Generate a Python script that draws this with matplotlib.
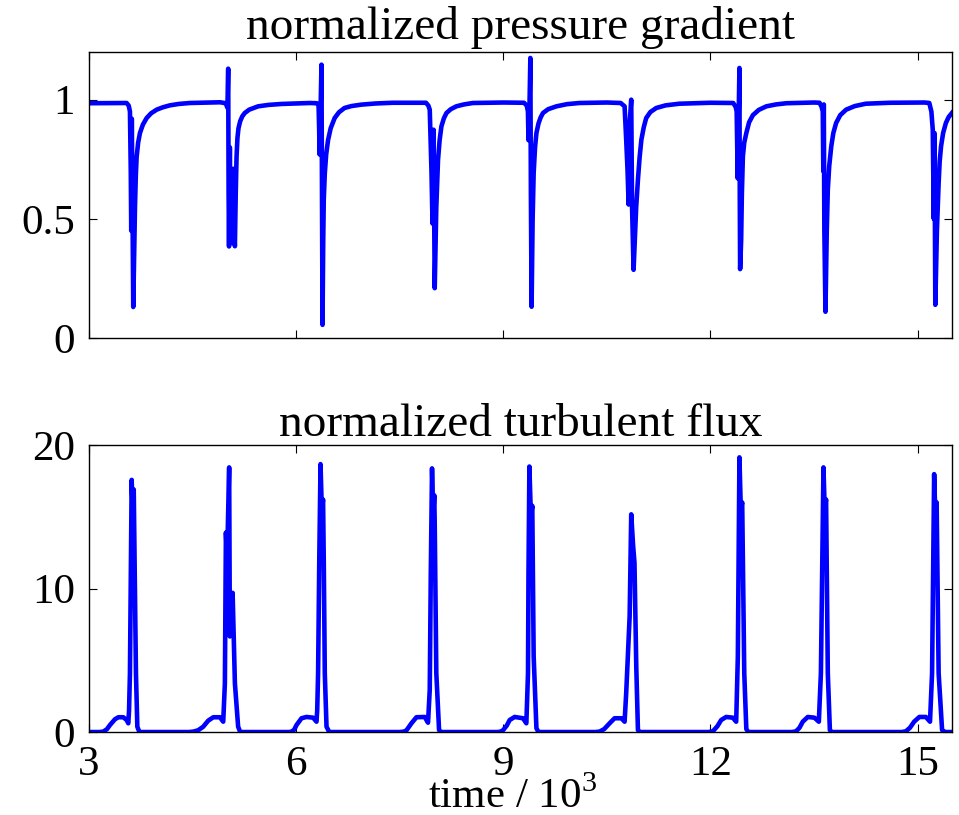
import matplotlib
matplotlib.use('Agg')
import matplotlib.pyplot as plt
import numpy as np

plt.rcParams['font.family'] = ['Liberation Serif', 'DejaVu Serif']
plt.rcParams['mathtext.fontset'] = 'custom'
plt.rcParams['mathtext.rm'] = 'Liberation Serif'

# time in units of 10^3, one row per relaxation cycle
grad_t = [
    3.00, 3.40, 3.545,
    3.575, 3.593, 3.605, 3.612, 3.620, 3.628, 3.641, 3.654, 3.666, 3.678, 3.690, 3.712, 3.738, 3.78, 3.835, 3.90, 3.98, 4.07, 4.17, 4.30, 4.46, 4.90,
    4.98, 5.005, 5.016, 5.022, 5.028, 5.040, 5.050, 5.065, 5.075, 5.090, 5.100, 5.113, 5.125, 5.137, 5.150, 5.165, 5.19, 5.22, 5.256, 5.32, 5.45, 5.60, 5.79, 6.20,
    6.30, 6.325, 6.333, 6.340, 6.350, 6.367, 6.374, 6.382, 6.392, 6.400, 6.415, 6.435, 6.462, 6.50, 6.558, 6.62, 6.70, 6.80, 6.94, 7.15, 7.40,
    7.88, 7.915, 7.935, 7.960, 7.975, 7.990, 8.007, 8.030, 8.055, 8.078, 8.104, 8.14, 8.177, 8.24, 8.32, 8.43, 8.56, 9.00,
    9.30, 9.340, 9.357, 9.365, 9.375, 9.392, 9.400, 9.410, 9.425, 9.440, 9.46, 9.48, 9.51, 9.54, 9.575, 9.65, 9.77, 9.92, 10.10, 10.50,
    10.70, 10.757, 10.780, 10.800, 10.815, 10.830, 10.853, 10.865, 10.878, 10.887, 10.905, 10.925, 10.95, 10.975, 11.00, 11.035, 11.07, 11.13, 11.215, 11.35, 11.55, 12.00,
    12.33, 12.365, 12.380, 12.395, 12.405, 12.420, 12.425, 12.430, 12.445, 12.455, 12.47, 12.49, 12.52, 12.56, 12.615, 12.70, 12.81, 12.95, 13.10, 13.50,
    13.58, 13.610, 13.627, 13.635, 13.642, 13.650, 13.666, 13.685, 13.70, 13.72, 13.75, 13.78, 13.82, 13.88, 13.965, 14.09, 14.25, 14.60, 15.10,
    15.17, 15.200, 15.220, 15.235, 15.245, 15.257, 15.280, 15.305, 15.32, 15.34, 15.37, 15.41, 15.45, 15.50,
]
grad_v = [
    0.985, 0.986, 0.986,
    0.975, 0.951, 0.70, 0.45, 0.92, 0.60, 0.13, 0.36, 0.55, 0.68, 0.76, 0.82, 0.86, 0.895, 0.923, 0.943, 0.958, 0.968, 0.976, 0.982, 0.986, 0.989,
    0.985, 0.966, 1.13, 0.60, 0.384, 0.80, 0.42, 0.66, 0.40, 0.71, 0.45, 0.385, 0.60, 0.76, 0.84, 0.88, 0.91, 0.93, 0.944, 0.958, 0.972, 0.978, 0.982, 0.986,
    0.985, 0.975, 0.88, 0.77, 0.90, 1.147, 0.60, 0.055, 0.40, 0.58, 0.69, 0.77, 0.83, 0.88, 0.923, 0.947, 0.965, 0.973, 0.979, 0.984, 0.987,
    0.987, 0.975, 0.958, 0.70, 0.48, 0.874, 0.209, 0.55, 0.748, 0.83, 0.888, 0.922, 0.944, 0.960, 0.972, 0.980, 0.986, 0.988,
    0.987, 0.975, 0.951, 0.83, 0.90, 1.175, 0.60, 0.131, 0.50, 0.692, 0.80, 0.86, 0.90, 0.925, 0.944, 0.960, 0.972, 0.981, 0.986, 0.988,
    0.986, 0.972, 0.832, 0.70, 0.56, 0.90, 1.00, 0.55, 0.40, 0.286, 0.41, 0.55, 0.664, 0.76, 0.832, 0.885, 0.923, 0.948, 0.965, 0.976, 0.983, 0.987,
    0.986, 0.970, 0.951, 0.67, 0.85, 1.133, 0.60, 0.289, 0.41, 0.60, 0.762, 0.82, 0.86, 0.905, 0.935, 0.957, 0.972, 0.980, 0.985, 0.988,
    0.987, 0.970, 0.951, 0.70, 0.98, 0.45, 0.11, 0.45, 0.622, 0.72, 0.804, 0.86, 0.902, 0.935, 0.958, 0.973, 0.983, 0.987, 0.988,
    0.986, 0.950, 0.874, 0.50, 0.86, 0.139, 0.45, 0.65, 0.74, 0.804, 0.86, 0.902, 0.927, 0.945,
]

flux_t = [
    3.00, 3.15,
    3.207, 3.26, 3.304, 3.376, 3.425, 3.497, 3.545, 3.569, 3.580, 3.593, 3.605, 3.618, 3.636, 3.648, 3.660, 3.680, 3.700, 3.73,
    4.45, 4.51, 4.58, 4.654, 4.726, 4.80, 4.896, 4.944, 4.968, 4.983, 5.000, 5.030, 5.040, 5.055, 5.065, 5.080, 5.113, 5.16, 5.19,
    5.90, 5.93, 5.97, 6.006, 6.078, 6.15, 6.246, 6.295, 6.305, 6.318, 6.335, 6.353, 6.372, 6.390, 6.400, 6.415, 6.44, 6.48,
    7.50, 7.56, 7.598, 7.67, 7.742, 7.862, 7.91, 7.935, 7.950, 7.968, 7.985, 8.000, 8.007, 8.03, 8.07, 8.10,
    8.92, 8.96, 8.996, 9.05, 9.093, 9.165, 9.285, 9.334, 9.358, 9.365, 9.378, 9.400, 9.420, 9.44, 9.48, 9.51,
    10.33, 10.395, 10.46, 10.54, 10.612, 10.71, 10.757, 10.78, 10.81, 10.83, 10.853, 10.88, 10.90, 10.926, 10.95, 10.98,
    11.97, 12.035, 12.10, 12.156, 12.228, 12.324, 12.373, 12.397, 12.420, 12.440, 12.460, 12.49, 12.52, 12.55,
    13.18, 13.24, 13.29, 13.337, 13.41, 13.506, 13.57, 13.60, 13.637, 13.655, 13.675, 13.70, 13.73, 13.76,
    14.77, 14.83, 14.89, 14.95, 15.026, 15.12, 15.18, 15.21, 15.24, 15.258, 15.276, 15.305, 15.355, 15.40, 15.50,
]
flux_v = [
    0.0, 0.0,
    0.03, 0.20, 0.49, 0.89, 1.03, 1.03, 0.84, 0.61, 1.5, 4.1, 11.0, 17.57, 15.0, 16.9, 12.0, 4.1, 0.37, 0.0,
    0.0, 0.03, 0.12, 0.37, 0.79, 1.03, 1.03, 0.72, 3.4, 13.9, 12.0, 18.44, 6.66, 8.5, 7.5, 9.7, 3.4, 0.37, 0.0,
    0.0, 0.02, 0.15, 0.49, 0.96, 1.05, 1.0, 0.72, 1.5, 4.1, 12.0, 18.67, 15.5, 16.2, 12.0, 4.1, 0.37, 0.0,
    0.0, 0.03, 0.12, 0.61, 1.03, 1.05, 0.65, 2.94, 11.0, 18.37, 15.0, 16.5, 14.6, 4.1, 0.14, 0.0,
    0.0, 0.03, 0.12, 0.45, 0.84, 1.05, 0.96, 0.61, 4.1, 11.0, 18.5, 15.0, 15.76, 5.27, 0.26, 0.0,
    0.0, 0.03, 0.20, 0.61, 0.96, 0.96, 0.72, 2.7, 5.97, 8.06, 15.17, 13.0, 11.8, 4.57, 0.14, 0.0,
    0.0, 0.05, 0.40, 0.84, 1.05, 1.0, 0.72, 5.27, 19.14, 15.5, 16.0, 4.1, 0.2, 0.0,
    0.0, 0.05, 0.30, 0.72, 1.05, 1.0, 0.72, 4.1, 18.44, 15.5, 16.2, 4.1, 0.14, 0.0,
    0.0, 0.05, 0.30, 0.72, 1.05, 1.05, 0.72, 4.1, 17.97, 15.0, 16.0, 4.1, 0.14, 0.0, 0.0,
]

x_ticks = [3, 6, 9, 12, 15]
grad_ticks = [0, 0.5, 1]
grad_tick_labels = ['0', '0.5', '1']
flux_ticks = [0, 10, 20]

LINE = dict(color=(0, 0, 1), linewidth=3.3, solid_joinstyle='round')
FS_TICK = 31
FS_TITLE = 34


def style_axes(ax):
    ax.tick_params(direction='in', length=6, width=0.8, top=True, right=True,
                   labelsize=FS_TICK, pad=10)
    for s in ax.spines.values():
        s.set_linewidth(1.0)
    ax.set_xlim(3, 15.5)
    ax.set_xticks(x_ticks)


fig = plt.figure(figsize=(9.59, 8.15), dpi=100)

ax1 = fig.add_axes([0.0928, 0.5853, 0.9, 0.3509])
ax1.plot(np.array(grad_t), np.array(grad_v), **LINE)
style_axes(ax1)
ax1.set_ylim(0, 1.2)
ax1.set_yticks(grad_ticks)
ax1.set_yticklabels(grad_tick_labels)
ax1.set_xticklabels([])

ax2 = fig.add_axes([0.0928, 0.1018, 0.9, 0.3522])
ax2.plot(np.array(flux_t), np.array(flux_v), **LINE)
style_axes(ax2)
ax2.set_ylim(0, 20)
ax2.set_yticks(flux_ticks)
ax2.set_xticklabels([str(t) for t in x_ticks])

fig.text(0.543, 0.952, 'normalized pressure gradient', ha='center', va='baseline', fontsize=FS_TITLE)
fig.text(0.543, 0.465, 'normalized turbulent flux', ha='center', va='baseline', fontsize=FS_TITLE)
fig.text(0.534, 0.009, r'time / 10$^{\mathrm{3}}$', ha='center', va='baseline', fontsize=FS_TICK)

fig.savefig('out.png', dpi=100)
